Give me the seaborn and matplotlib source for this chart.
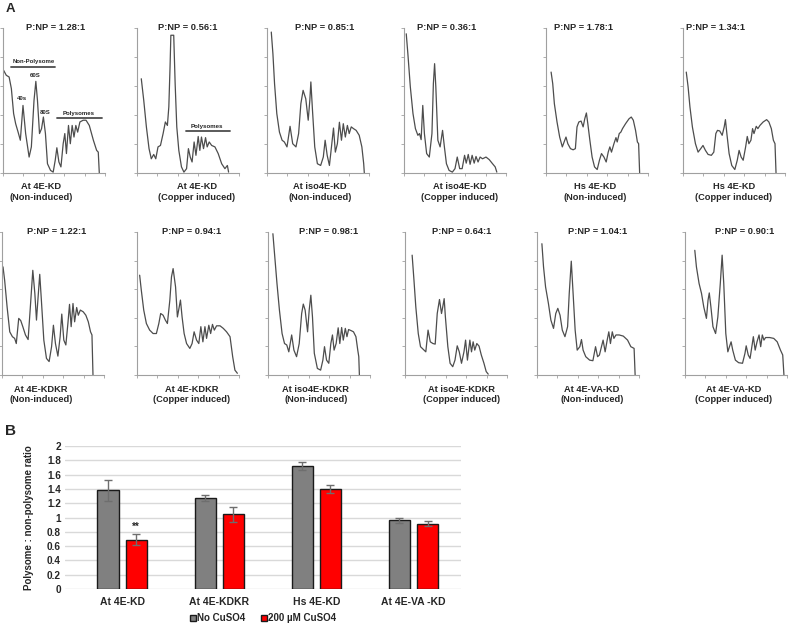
import numpy as np
import pandas as pd
import matplotlib.pyplot as plt
import seaborn as sns

sns.set_theme(style='white')
plt.rcParams['font.family'] = ['Liberation Sans', 'DejaVu Sans']
plt.rcParams['font.weight'] = 'bold'

W, H = 800, 631

# polysome traces: (gradient position, A254), 0-5 units
kd_non = [(0.03, 3.54), (0.16, 3.37), (0.30, 3.31), (0.41, 2.91), (0.52, 2.05), (0.62, 1.70),
          (0.74, 1.41), (0.85, 1.13), (0.98, 2.33), (1.11, 1.36), (1.28, 0.55), (1.39, 0.90),
          (1.52, 2.50), (1.61, 3.16), (1.69, 2.50), (1.79, 1.36), (1.89, 1.53), (1.98, 1.93),
          (2.08, 1.36), (2.18, 0.32), (2.33, 0.09), (2.46, 0.03), (2.56, 0.44), (2.64, 0.87),
          (2.74, 0.38), (2.84, 0.21), (2.95, 1.01), (3.03, 1.36), (3.11, 0.67), (3.21, 1.64),
          (3.30, 1.01), (3.39, 1.64), (3.48, 1.24), (3.57, 1.64), (3.66, 1.41), (3.77, 1.76),
          (3.93, 1.82), (4.07, 1.82), (4.23, 1.64), (4.43, 1.13), (4.59, 0.78), (4.67, 0.72),
          (4.72, 0.0)]
kd_cu = [(0.21, 3.25), (0.33, 2.51), (0.46, 1.59), (0.59, 0.84), (0.70, 0.49), (0.82, 0.64),
         (0.92, 0.49), (1.03, 0.90), (1.15, 0.95), (1.28, 1.36), (1.39, 1.76), (1.49, 1.64),
         (1.56, 2.28), (1.62, 3.66), (1.66, 4.75), (1.80, 4.75), (1.87, 3.08), (1.95, 1.59),
         (2.05, 0.78), (2.18, 0.21), (2.30, 0.03), (2.43, 0.15), (2.52, 0.84), (2.61, 0.55),
         (2.70, 0.38), (2.80, 1.07), (2.89, 0.61), (3.00, 1.26), (3.08, 0.78), (3.16, 1.24),
         (3.26, 0.84), (3.36, 1.22), (3.44, 0.90), (3.54, 1.07), (3.66, 0.95), (3.82, 0.90),
         (3.98, 0.67), (4.15, 0.32), (4.31, 0.15), (4.43, 0.26), (4.49, 0.03)]
iso_non = [(0.21, 4.86), (0.29, 4.11), (0.37, 3.08), (0.48, 2.05), (0.61, 1.41), (0.74, 1.13),
           (0.85, 1.07), (0.98, 0.90), (1.13, 1.61), (1.26, 1.01), (1.42, 0.90), (1.55, 1.36),
           (1.66, 2.39), (1.77, 2.85), (1.90, 2.56), (2.02, 1.82), (2.10, 2.51), (2.15, 3.14),
           (2.23, 2.16), (2.34, 0.90), (2.47, 0.32), (2.63, 0.26), (2.76, 0.55), (2.85, 1.13),
           (2.95, 0.61), (3.06, 0.26), (3.16, 0.90), (3.26, 1.55), (3.35, 0.72), (3.45, 1.01),
           (3.55, 1.75), (3.65, 1.13), (3.74, 1.70), (3.84, 1.24), (3.94, 1.64), (4.03, 1.36),
           (4.13, 1.59), (4.24, 1.53), (4.37, 1.47), (4.52, 1.30), (4.65, 0.90), (4.74, 0.32),
           (4.77, 0.0)]
iso_cu = [(0.11, 4.80), (0.19, 4.11), (0.31, 2.97), (0.44, 2.05), (0.56, 1.53), (0.68, 1.30),
          (0.76, 1.36), (0.84, 1.15), (0.92, 2.33), (1.00, 1.36), (1.11, 0.67), (1.24, 0.55),
          (1.37, 1.36), (1.44, 3.08), (1.50, 3.77), (1.56, 2.97), (1.66, 1.13), (1.77, 0.90),
          (1.89, 1.47), (1.98, 0.90), (2.08, 0.32), (2.21, 0.09), (2.37, 0.03), (2.50, 0.15),
          (2.61, 0.55), (2.73, 0.15), (2.85, 0.15), (2.97, 0.61), (3.05, 0.34), (3.15, 0.64),
          (3.24, 0.30), (3.34, 0.61), (3.44, 0.34), (3.53, 0.57), (3.63, 0.38), (3.73, 0.55),
          (3.85, 0.49), (4.02, 0.55), (4.18, 0.46), (4.34, 0.32), (4.47, 0.21), (4.55, 0.03)]
hs_non = [(0.25, 3.48), (0.33, 3.08), (0.41, 2.39), (0.54, 1.76), (0.67, 1.24), (0.80, 0.90),
          (0.92, 1.13), (0.98, 1.24), (1.07, 1.01), (1.20, 0.84), (1.33, 0.80), (1.44, 0.84),
          (1.52, 1.59), (1.61, 1.76), (1.72, 1.79), (1.82, 1.59), (1.90, 1.87), (1.98, 2.07),
          (2.05, 1.70), (2.15, 1.13), (2.26, 0.55), (2.38, 0.21), (2.51, 0.12), (2.62, 0.44),
          (2.72, 0.67), (2.84, 0.55), (2.95, 0.38), (3.05, 0.72), (3.13, 0.90), (3.21, 0.72),
          (3.33, 1.01), (3.43, 1.22), (3.49, 1.07), (3.59, 1.36), (3.67, 1.41), (3.75, 1.53),
          (3.90, 1.70), (4.07, 1.87), (4.18, 1.93), (4.28, 1.82), (4.39, 1.47), (4.48, 1.07),
          (4.54, 1.01), (4.59, 0.0)]
hs_cu = [(0.16, 3.48), (0.25, 2.97), (0.34, 2.28), (0.46, 1.59), (0.61, 1.01), (0.74, 0.72),
         (0.87, 0.84), (0.98, 0.95), (1.10, 0.78), (1.23, 0.64), (1.39, 0.61), (1.51, 0.72),
         (1.61, 1.36), (1.69, 1.47), (1.80, 1.45), (1.92, 1.30), (2.02, 1.59), (2.08, 1.84),
         (2.15, 1.36), (2.26, 0.67), (2.39, 0.26), (2.54, 0.12), (2.66, 0.44), (2.75, 0.78),
         (2.85, 0.55), (2.95, 0.44), (3.07, 0.90), (3.15, 1.26), (3.23, 1.01), (3.33, 1.13),
         (3.41, 1.53), (3.48, 1.36), (3.59, 1.61), (3.67, 1.53), (3.77, 1.64), (3.93, 1.76),
         (4.10, 1.84), (4.21, 1.76), (4.33, 1.53), (4.43, 1.13), (4.51, 1.01), (4.56, 0.0)]
kdkr_non = [(0.05, 3.78), (0.13, 3.31), (0.25, 2.38), (0.38, 1.51), (0.51, 1.34), (0.62, 1.28),
            (0.70, 1.10), (0.82, 1.98), (0.92, 1.90), (1.02, 1.69), (1.15, 1.40), (1.28, 1.24),
            (1.39, 2.38), (1.51, 3.66), (1.61, 2.85), (1.69, 1.92), (1.77, 2.73), (1.85, 3.52),
            (1.93, 2.62), (2.05, 1.22), (2.18, 0.58), (2.31, 0.47), (2.43, 0.99), (2.52, 1.74),
            (2.62, 1.10), (2.74, 0.66), (2.85, 1.34), (2.93, 2.13), (3.03, 1.22), (3.13, 1.05),
            (3.23, 1.80), (3.31, 2.47), (3.39, 1.69), (3.48, 2.50), (3.56, 1.86), (3.66, 2.36),
            (3.74, 2.09), (3.84, 2.27), (3.98, 2.21), (4.11, 2.09), (4.23, 1.86), (4.34, 1.51),
            (4.41, 1.40), (4.46, 0.0)]
kdkr_cu = [(0.13, 3.49), (0.21, 2.97), (0.33, 2.27), (0.46, 1.80), (0.62, 1.57), (0.79, 1.45),
           (0.95, 1.45), (1.07, 1.80), (1.16, 2.15), (1.28, 2.09), (1.39, 1.92), (1.49, 1.80),
           (1.61, 2.62), (1.69, 3.43), (1.77, 3.72), (1.89, 3.08), (1.98, 2.03), (2.07, 2.38),
           (2.13, 2.62), (2.21, 2.03), (2.31, 1.45), (2.43, 1.10), (2.59, 0.93), (2.70, 1.10),
           (2.80, 1.51), (2.92, 1.22), (3.03, 1.10), (3.13, 1.69), (3.23, 1.16), (3.33, 1.69),
           (3.41, 1.28), (3.52, 1.74), (3.61, 1.45), (3.70, 1.77), (3.79, 1.57), (3.90, 1.72),
           (4.07, 1.72), (4.23, 1.63), (4.39, 1.51), (4.56, 1.34), (4.69, 0.64), (4.80, 0.17),
           (4.92, 0.06)]
isokr_non = [(0.24, 4.94), (0.32, 4.24), (0.44, 3.20), (0.56, 2.27), (0.69, 1.45), (0.81, 1.10),
             (0.92, 1.05), (1.02, 0.81), (1.16, 1.40), (1.27, 0.87), (1.40, 0.64), (1.53, 1.10),
             (1.65, 2.15), (1.73, 2.48), (1.82, 2.27), (1.94, 1.51), (2.02, 2.27), (2.10, 2.79),
             (2.18, 2.03), (2.27, 0.76), (2.42, 0.23), (2.58, 0.17), (2.69, 0.52), (2.77, 0.99),
             (2.87, 0.52), (2.98, 0.41), (3.08, 1.10), (3.16, 1.40), (3.24, 0.87), (3.34, 1.10),
             (3.44, 1.65), (3.52, 1.10), (3.61, 1.66), (3.69, 1.22), (3.79, 1.63), (3.87, 1.34),
             (3.95, 1.59), (4.08, 1.55), (4.19, 1.51), (4.31, 1.34), (4.40, 0.87), (4.45, 0.64),
             (4.48, 0.0)]
isokr_cu = [(0.35, 4.19), (0.44, 3.31), (0.53, 2.38), (0.65, 1.45), (0.76, 0.99), (0.89, 0.90),
            (1.02, 0.81), (1.13, 1.57), (1.24, 1.16), (1.37, 1.10), (1.48, 1.08), (1.58, 2.15),
            (1.69, 2.64), (1.79, 2.15), (1.85, 2.38), (1.92, 2.67), (1.98, 2.03), (2.10, 0.99),
            (2.21, 0.41), (2.34, 0.29), (2.45, 0.52), (2.56, 1.02), (2.66, 0.81), (2.77, 0.41),
            (2.89, 0.81), (2.97, 1.22), (3.06, 0.52), (3.18, 1.22), (3.26, 0.81), (3.34, 1.16),
            (3.42, 0.87), (3.52, 1.10), (3.63, 1.01), (3.74, 0.70), (3.87, 0.41), (3.98, 0.12),
            (4.08, 0.03)]
va_non = [(0.24, 4.59), (0.32, 3.78), (0.42, 3.08), (0.56, 2.50), (0.68, 1.92), (0.81, 1.63),
          (0.92, 2.15), (1.02, 2.33), (1.13, 2.09), (1.24, 1.57), (1.37, 1.34), (1.50, 1.69),
          (1.58, 2.85), (1.68, 3.98), (1.77, 2.85), (1.87, 1.57), (1.97, 0.87), (2.10, 0.99),
          (2.18, 1.24), (2.26, 0.87), (2.39, 0.64), (2.58, 0.52), (2.74, 0.50), (2.87, 0.99),
          (2.97, 0.64), (3.06, 0.70), (3.16, 0.99), (3.24, 1.22), (3.34, 0.81), (3.44, 1.22),
          (3.52, 1.51), (3.60, 1.10), (3.69, 1.51), (3.77, 1.28), (3.87, 1.40), (4.03, 1.40),
          (4.23, 1.36), (4.44, 1.22), (4.60, 0.99), (4.76, 0.93), (4.81, 0.0)]
va_cu = [(0.48, 4.36), (0.56, 3.78), (0.69, 3.20), (0.81, 2.85), (0.92, 2.38), (1.05, 1.98),
         (1.13, 2.62), (1.19, 2.87), (1.27, 2.38), (1.37, 1.69), (1.50, 1.45), (1.61, 2.03),
         (1.73, 3.20), (1.82, 4.19), (1.90, 3.20), (2.00, 1.45), (2.10, 0.81), (2.18, 0.99),
         (2.26, 1.16), (2.34, 0.87), (2.47, 0.52), (2.63, 0.43), (2.82, 0.41), (2.94, 0.76),
         (3.00, 1.02), (3.10, 0.70), (3.19, 0.58), (3.29, 1.05), (3.35, 1.34), (3.44, 0.87),
         (3.53, 1.16), (3.63, 1.40), (3.71, 0.99), (3.79, 1.40), (3.87, 1.22), (3.95, 1.31),
         (4.15, 1.31), (4.35, 1.28), (4.52, 1.16), (4.68, 0.87), (4.79, 0.70), (4.85, 0.0)]

profiles = [kd_non, kd_cu, iso_non, iso_cu, hs_non, hs_cu,
            kdkr_non, kdkr_cu, isokr_non, isokr_cu, va_non, va_cu]
ratios = ['1.28', '0.56', '0.85', '0.36', '1.78', '1.34',
          '1.22', '0.94', '0.98', '0.64', '1.04', '0.90']
lines = ['At 4E-KD', 'At 4E-KD', 'At iso4E-KD', 'At iso4E-KD', 'Hs 4E-KD', 'Hs 4E-KD',
         'At 4E-KDKR', 'At 4E-KDKR', 'At iso4E-KDKR', 'At iso4E-KDKR', 'At 4E-VA-KD', 'At 4E-VA-KD']
conds = ['(Non-induced)', '(Copper induced)'] * 6

# panel B
strains = ['At 4E-KD', 'At 4E-KDKR', 'Hs 4E-KD', 'At 4E-VA -KD']
no_cu = [1.38, 1.27, 1.72, 0.96]
no_cu_err = [0.15, 0.045, 0.055, 0.04]
cu = [0.69, 1.045, 1.40, 0.91]
cu_err = [0.08, 0.105, 0.06, 0.035]

# layout, in pixels
ax_left = [3, 137, 267, 404, 546, 683, 2, 137, 268, 405, 537, 685]
row_top = [28, 232]
row_h = [145, 143]
title_dx = [1.5, 0, 7, -8, -14, -19, 4, 4, 10, 6, 10, 9]
label_x = [41, 197, 320, 460, 595, 734, 41, 192, 316, 462, 592, 734]
label_y = [192, 394.5]


def rect(left, top, w, h):
    return [left / W, 1 - (top + h) / H, w / W, h / H]


fig = plt.figure(figsize=(W / 100, H / 100), dpi=100)

for i, prof in enumerate(profiles):
    r = i // 6
    ax = fig.add_axes(rect(ax_left[i], row_top[r], 102, row_h[r]))
    df = pd.DataFrame(prof, columns=['pos', 'abs'])
    sns.lineplot(data=df, x='pos', y='abs', ax=ax, color='#4d4d4d', linewidth=0.9,
                 sort=False, estimator=None)
    ax.set_xlim(0, 5)
    ax.set_ylim(0, 5)
    ax.set_xticks(range(6))
    ax.set_yticks(range(6))
    ax.set_xticklabels([])
    ax.set_yticklabels([])
    ax.set_xlabel('')
    ax.set_ylabel('')
    ax.tick_params(length=2, width=0.6, color='#a0a0a0', bottom=True, left=True)
    for s in ['top', 'right']:
        ax.spines[s].set_visible(False)
    for s in ['left', 'bottom']:
        ax.spines[s].set_color('#a0a0a0')
        ax.spines[s].set_linewidth(0.8)
    ax.text(0.5 + title_dx[i] / 102, 1.0, f'P:NP = {ratios[i]}:1', transform=ax.transAxes,
            ha='center', va='center', fontsize=6.7, fontweight='bold')
    fig.text(label_x[i] / W, 1 - label_y[r] / H, lines[i] + '\n' + conds[i],
             ha='center', va='center', fontsize=6.7, fontweight='bold', linespacing=1.25)

    if i == 0:
        ax.text(1.52, 3.85, 'Non-Polysome', ha='center', va='center', fontsize=4.3)
        ax.plot([0.41, 2.54], [3.66, 3.66], color='#4d4d4d', lw=1.3)
        ax.text(0.95, 2.56, '40s', ha='center', va='center', fontsize=4.3)
        ax.text(1.56, 3.37, '60S', ha='center', va='center', fontsize=4.3)
        ax.text(2.08, 2.1, '80S', ha='center', va='center', fontsize=4.3)
        ax.text(3.69, 2.05, 'Polysomes', ha='center', va='center', fontsize=4.3)
        ax.plot([2.66, 4.84], [1.91, 1.91], color='#4d4d4d', lw=1.3)
    if i == 1:
        ax.text(3.41, 1.59, 'Polysomes', ha='center', va='center', fontsize=4.4)
        ax.plot([2.39, 4.56], [1.44, 1.44], color='#4d4d4d', lw=1.3)

fig.text(10 / W, 1 - 9 / H, 'A', ha='center', va='center', fontsize=9.5, fontweight='bold')
fig.text(10 / W, 1 - 431 / H, 'B', ha='center', va='center', fontsize=11, fontweight='bold')

# panel B bars
bars = pd.DataFrame({
    'strain': strains * 2,
    'cond': ['No CuSO4'] * 4 + ['200 µM CuSO4'] * 4,
    'ratio': no_cu + cu,
})
axb = fig.add_axes(rect(65, 446, 396, 143))
sns.barplot(data=bars, x='strain', y='ratio', hue='cond', ax=axb, errorbar=None,
            palette={'No CuSO4': '#808080', '200 µM CuSO4': '#ff0000'}, saturation=1,
            width=0.58, gap=0.24, edgecolor='#1a1a1a', linewidth=1.0, zorder=3)
for cont, err in zip(axb.containers, [no_cu_err, cu_err]):
    xs = [p.get_x() + p.get_width() / 2 for p in cont]
    ys = [p.get_height() for p in cont]
    axb.errorbar(xs, ys, yerr=err, fmt='none', ecolor='#6e6e6e', elinewidth=1.0,
                 capsize=3.2, capthick=1.0, zorder=4)
axb.text(0.144, 0.80, '**', ha='center', va='bottom', fontsize=7, fontweight='bold')

axb.set_xlim(-0.59, 3.49)
axb.set_ylim(0, 2)
yt = np.arange(0, 2.01, 0.2)
axb.set_yticks(yt)
axb.set_yticklabels([f'{v:g}' for v in np.round(yt, 1)], fontsize=7.2, fontweight='bold')
axb.set_xticks(range(4))
axb.set_xticklabels(strains, fontsize=7.5, fontweight='bold')
axb.tick_params(axis='both', length=0)
axb.tick_params(axis='x', pad=6)
axb.tick_params(axis='y', pad=3)
axb.yaxis.grid(True, color='#d9d9d9', linewidth=1.0, zorder=0)
axb.set_axisbelow(True)
for s in axb.spines.values():
    s.set_visible(False)
axb.set_xlabel('')
axb.set_ylabel('Polysome : non-polysome ratio', fontsize=7, fontweight='bold')
axb.yaxis.set_label_coords(-0.078, 0.5)
axb.legend(loc='center', bbox_to_anchor=(0.5, -0.203), ncol=2, frameon=False,
           handlelength=0.6, handleheight=0.6, handletextpad=0.15, columnspacing=1.6,
           prop={'size': 7, 'weight': 'bold'})

fig.savefig('out.png', dpi=100)
